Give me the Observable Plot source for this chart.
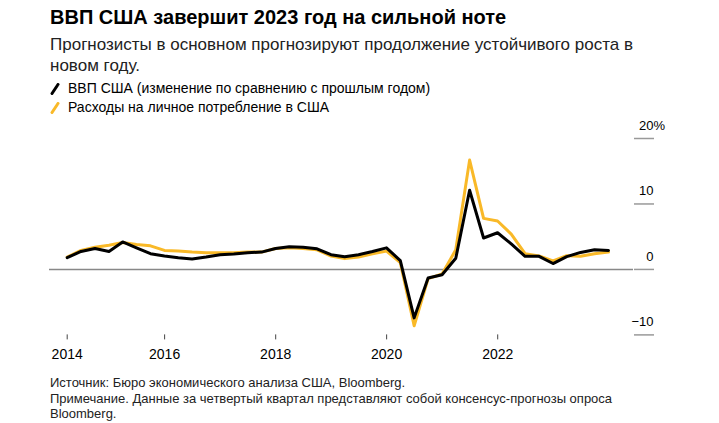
<!DOCTYPE html>
<html>
<head>
<meta charset="utf-8">
<script src="https://cdn.jsdelivr.net/npm/d3@7"></script>
<script src="https://cdn.jsdelivr.net/npm/@observablehq/plot@0.6"></script>
<style>
  html, body { margin: 0; padding: 0; background: #fff; }
  body { width: 719px; height: 423px; position: relative; overflow: hidden;
         font-family: "Liberation Sans", Arial, Helvetica, sans-serif; color: #000; }
  .abs { position: absolute; left: 50px; white-space: nowrap; }
  #title { top: 6px; font-size: 20px; font-weight: bold; line-height: 22px; }
  #subtitle { top: 34px; font-size: 17px; line-height: 21px; color: #222; }
  #legend { top: 79px; font-size: 14px; line-height: 19px; }
  #legend .item { display: flex; align-items: center; }
  #legend svg { margin-right: 8px; }
  #chart { position: absolute; left: 0; top: 115px; }
  #footer { top: 375px; font-size: 13px; line-height: 15.5px; color: #222; }
</style>
</head>
<body>
<div id="title" class="abs">ВВП США завершит 2023 год на сильной ноте</div>
<div id="subtitle" class="abs">Прогнозисты в основном прогнозируют продолжение устойчивого роста в<br>новом году.</div>
<div id="legend" class="abs"></div>
<div id="chart"></div>
<div id="footer" class="abs">Источник: Бюро экономического анализа США, Bloomberg.<br>Примечание. Данные за четвертый квартал представляют собой консенсус-прогнозы опроса<br>Bloomberg.</div>
<script>
// Quarter-end dates, 2014Q1 .. 2023Q4
const quarterEnds = [
  "2014-03-31","2014-06-30","2014-09-30","2014-12-31",
  "2015-03-31","2015-06-30","2015-09-30","2015-12-31",
  "2016-03-31","2016-06-30","2016-09-30","2016-12-31",
  "2017-03-31","2017-06-30","2017-09-30","2017-12-31",
  "2018-03-31","2018-06-30","2018-09-30","2018-12-31",
  "2019-03-31","2019-06-30","2019-09-30","2019-12-31",
  "2020-03-31","2020-06-30","2020-09-30","2020-12-31",
  "2021-03-31","2021-06-30","2021-09-30","2021-12-31",
  "2022-03-31","2022-06-30","2022-09-30","2022-12-31",
  "2023-03-31","2023-06-30","2023-09-30","2023-12-31"
];
// US GDP, % change year over year
const gdp = [
  1.8, 2.75, 3.2, 2.75,
  4.2, 3.3, 2.4, 2.05,
  1.8, 1.6, 1.9, 2.25,
  2.35, 2.55, 2.65, 3.2,
  3.45, 3.4, 3.15, 2.25,
  1.95, 2.25, 2.75, 3.3,
  1.35, -7.4, -1.3, -0.8,
  1.7, 12.1, 4.8, 5.6,
  3.9, 2.0, 2.0, 0.9,
  1.95, 2.6, 3.0, 2.9
];
// US personal consumption expenditures, % change year over year
const pce = [
  1.9, 2.9, 3.4, 3.7,
  4.1, 3.8, 3.6, 2.9,
  2.8, 2.65, 2.55, 2.55,
  2.55, 2.65, 2.65, 3.2,
  3.3, 3.2, 3.0, 2.05,
  1.65, 1.9, 2.4, 2.8,
  1.05, -8.6, -1.4, -0.7,
  3.0, 16.7, 7.8, 7.4,
  5.4, 2.4, 2.05, 1.3,
  2.1, 2.0, 2.4, 2.65
];
const seriesNames = ["ВВП США (изменение по сравнению с прошлым годом)", "Расходы на личное потребление в США"];
const seriesColors = ["#000000", "#f9b928"];
const xTickDates = ["2014-03-31", "2016-01-01", "2018-01-01", "2020-01-01", "2022-01-01"];
const yTicks = [-10, 0, 10, 20];

const data = quarterEnds.map((d, i) => ({date: new Date(d), gdp: gdp[i], pce: pce[i]}));

// legend
const legend = document.getElementById("legend");
seriesNames.forEach((name, i) => {
  const div = document.createElement("div");
  div.className = "item";
  div.innerHTML = `<svg width="10" height="12" viewBox="0 0 10 12"><line x1="2" y1="10.5" x2="8" y2="1.5" stroke="${seriesColors[i]}" stroke-width="3" stroke-linecap="round"/></svg><span>${name}</span>`;
  legend.appendChild(div);
});

const topTick = yTicks[yTicks.length - 1];
const chart = Plot.plot({
  width: 719,
  height: 260,
  marginTop: 23,
  marginBottom: 40.6,
  marginLeft: 49,
  marginRight: 86,
  style: {fontFamily: '"Liberation Sans", Arial, sans-serif', color: "#000", background: "transparent"},
  x: {type: "utc", domain: [new Date(quarterEnds[0]), new Date(quarterEnds[quarterEnds.length - 1])], range: [66.7, 608]},
  y: {domain: [-10, 20]},
  marks: [
    Plot.ruleY([0], {stroke: "#888", strokeWidth: 1.5}),
    Plot.axisX({ticks: xTickDates.map(d => new Date(d)), tickFormat: d3.utcFormat("%Y"), tickSize: 5, tickPadding: 9.5, fontSize: 14, stroke: "#444", label: null}),
    // tick lines only
    Plot.axisY({anchor: "right", ticks: yTicks, tickSize: 20, tickFormat: () => "", stroke: "#999", strokeWidth: 1.5, label: null}),
    // labels above tick lines
    Plot.axisY({anchor: "right", ticks: yTicks.filter(d => d !== topTick), tickSize: 0, tickPadding: 20, textAnchor: "end", dy: -13, fontSize: 13, label: null}),
    Plot.axisY({anchor: "right", ticks: [topTick], tickSize: 0, tickPadding: 5.5, textAnchor: "start", dy: -13, fontSize: 13, tickFormat: d => d + "%", label: null}),
    Plot.line(data, {x: "date", y: "pce", stroke: seriesColors[1], strokeWidth: 3}),
    Plot.line(data, {x: "date", y: "gdp", stroke: seriesColors[0], strokeWidth: 3})
  ]
});
document.getElementById("chart").appendChild(chart);
</script>
</body>
</html>
